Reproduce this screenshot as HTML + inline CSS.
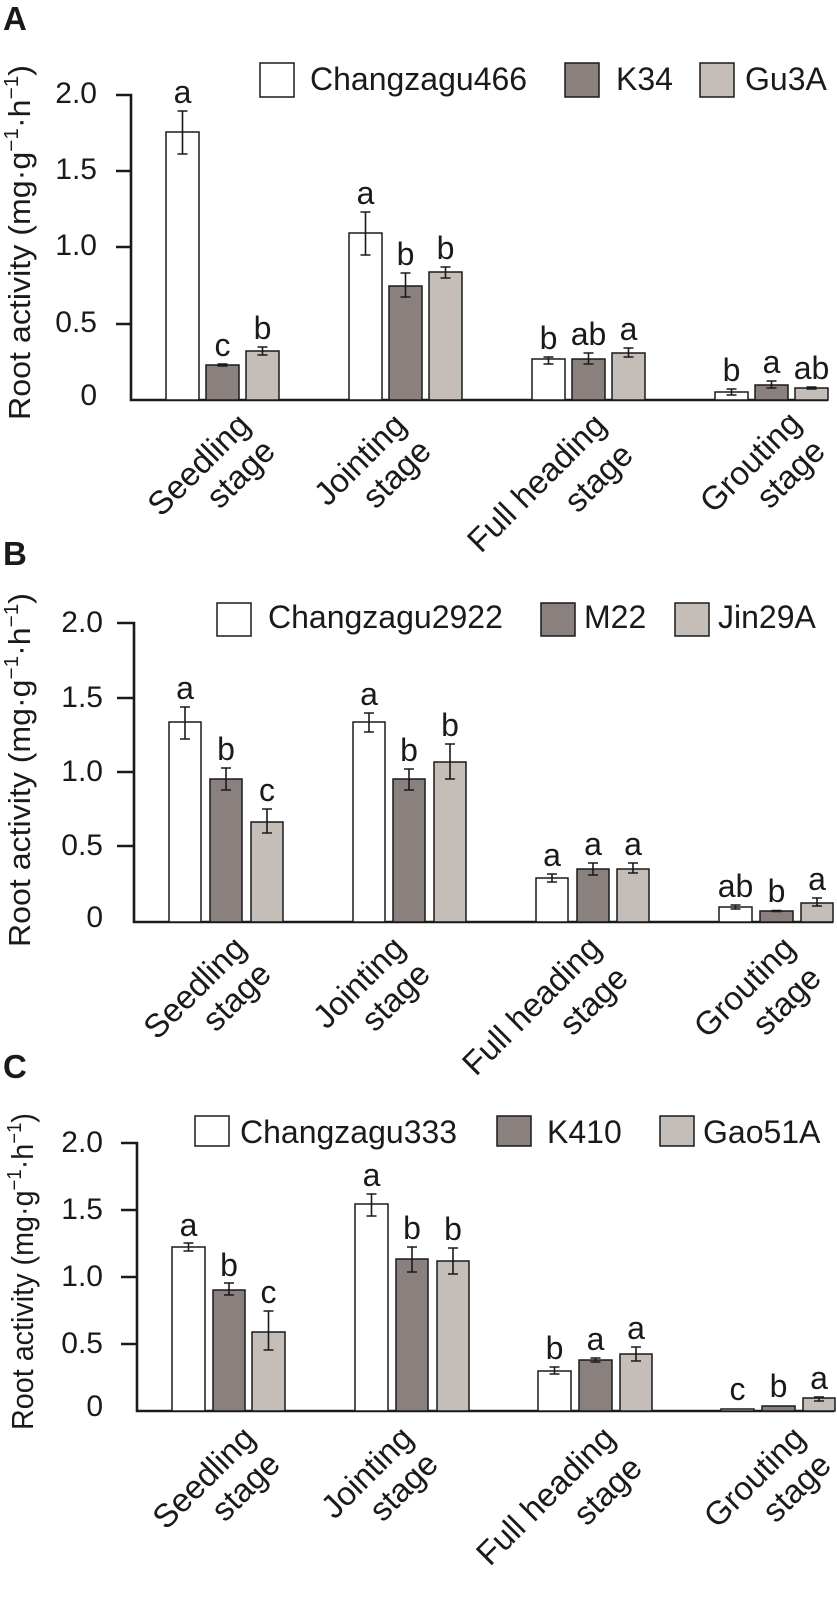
<!DOCTYPE html>
<html><head><meta charset="utf-8"><style>
html,body{margin:0;padding:0;background:#fff}
svg{display:block}
text{font-family:"Liberation Sans",Arial,sans-serif;fill:#1a1a1a}
.b{stroke:#1a1a1a;stroke-width:1.5}
.w{fill:#fff}.d{fill:#8a807d}.l{fill:#c5bdb8}
.e{stroke:#1a1a1a;stroke-width:1.6;fill:none}
.ax{stroke:#1a1a1a;stroke-width:2.6;fill:none}
.tk{font-size:30px;text-anchor:end}
.lt{font-size:32px;text-anchor:middle}
.lg{font-size:32px}
.xl{font-size:33px;text-anchor:end}
.pl{font-size:33px;font-weight:bold}
.yt{font-size:31px}
</style></head><body>
<svg width="837" height="1616" viewBox="0 0 837 1616" xmlns="http://www.w3.org/2000/svg">

<!-- ============ PANEL A ============ -->
<text class="pl" x="3" y="30">A</text>
<text class="yt" transform="translate(30,420) rotate(-90)" textLength="355" lengthAdjust="spacingAndGlyphs">Root activity (mg·g<tspan font-size="20" dy="-12">−1</tspan><tspan dy="12">·h</tspan><tspan font-size="20" dy="-12">−1</tspan><tspan dy="12">)</tspan></text>
<rect class="b w" x="260" y="63" width="34" height="34"/><text class="lg" x="310" y="90">Changzagu466</text>
<rect class="b d" x="565" y="63" width="34" height="34"/><text class="lg" x="616" y="90">K34</text>
<rect class="b l" x="700" y="63" width="34" height="34"/><text class="lg" x="745" y="90">Gu3A</text>
<path class="ax" d="M116 95H131V400H828M116 171H131M116 247H131M116 324H131"/>
<text class="tk" x="97" y="103">2.0</text><text class="tk" x="97" y="179">1.5</text><text class="tk" x="97" y="255">1.0</text><text class="tk" x="97" y="332">0.5</text><text class="tk" x="97" y="405">0</text>
<rect class="b w" x="166" y="132" width="33" height="268"/>
<rect class="b d" x="206" y="365" width="33" height="35"/>
<rect class="b l" x="246" y="351" width="33" height="49"/>
<rect class="b w" x="349" y="233" width="33" height="167"/>
<rect class="b d" x="389" y="286" width="33" height="114"/>
<rect class="b l" x="429" y="272" width="33" height="128"/>
<rect class="b w" x="532" y="359" width="33" height="41"/>
<rect class="b d" x="572" y="359" width="33" height="41"/>
<rect class="b l" x="612" y="353" width="33" height="47"/>
<rect class="b w" x="715" y="392" width="33" height="8"/>
<rect class="b d" x="755" y="385" width="33" height="15"/>
<rect class="b l" x="795" y="388" width="33" height="12"/>
<path class="e" d="M182.5 111V154M177.5 111h10M177.5 154h10
M222.5 364V366M217.5 364h10M217.5 366h10
M262.5 347V355M257.5 347h10M257.5 355h10
M365.5 212V255M360.5 212h10M360.5 255h10
M405.5 273V297M400.5 273h10M400.5 297h10
M445.5 267V278M440.5 267h10M440.5 278h10
M548.5 357V364M543.5 357h10M543.5 364h10
M588.5 353V364M583.5 353h10M583.5 364h10
M628.5 348V357M623.5 348h10M623.5 357h10
M731.5 389V395M726.5 389h10M726.5 395h10
M771.5 381V388M766.5 381h10M766.5 388h10
M811.5 387V389M806.5 387h10M806.5 389h10"/>
<text class="lt" x="182.5" y="103">a</text><text class="lt" x="222.5" y="356">c</text><text class="lt" x="262.5" y="339">b</text>
<text class="lt" x="365.5" y="204">a</text><text class="lt" x="405.5" y="265">b</text><text class="lt" x="445.5" y="259">b</text>
<text class="lt" x="548.5" y="349">b</text><text class="lt" x="588.5" y="345">ab</text><text class="lt" x="628.5" y="340">a</text>
<text class="lt" x="731.5" y="381">b</text><text class="lt" x="771.5" y="373">a</text><text class="lt" x="811.5" y="379">ab</text>
<text class="xl" transform="translate(252,427) rotate(-45)">Seedling</text><text class="xl" transform="translate(277,453) rotate(-45)">stage</text>
<text class="xl" transform="translate(408,427) rotate(-45)">Jointing</text><text class="xl" transform="translate(433,453) rotate(-45)">stage</text>
<text class="xl" transform="translate(608,427) rotate(-45)">Full heading</text><text class="xl" transform="translate(635,457) rotate(-45)">stage</text>
<text class="xl" transform="translate(803,425) rotate(-45)">Grouting</text><text class="xl" transform="translate(827,453) rotate(-45)">stage</text>

<!-- ============ PANEL B ============ -->
<text class="pl" x="3" y="565">B</text>
<text class="yt" transform="translate(30,947) rotate(-90)" textLength="354" lengthAdjust="spacingAndGlyphs">Root activity (mg·g<tspan font-size="20" dy="-12">−1</tspan><tspan dy="12">·h</tspan><tspan font-size="20" dy="-12">−1</tspan><tspan dy="12">)</tspan></text>
<rect class="b w" x="217" y="603" width="34" height="33"/><text class="lg" x="268" y="628">Changzagu2922</text>
<rect class="b d" x="541" y="603" width="34" height="33"/><text class="lg" x="584" y="628">M22</text>
<rect class="b l" x="675" y="603" width="34" height="33"/><text class="lg" x="718" y="628">Jin29A</text>
<path class="ax" d="M117 623H134V922H833M117 698H134M117 772H134M117 846H134"/>
<text class="tk" x="103" y="632">2.0</text><text class="tk" x="103" y="707">1.5</text><text class="tk" x="103" y="781">1.0</text><text class="tk" x="103" y="855">0.5</text><text class="tk" x="103" y="927">0</text>
<rect class="b w" x="169" y="722" width="32" height="200"/>
<rect class="b d" x="210" y="779" width="32" height="143"/>
<rect class="b l" x="251" y="822" width="32" height="100"/>
<rect class="b w" x="353" y="722" width="32" height="200"/>
<rect class="b d" x="393" y="779" width="32" height="143"/>
<rect class="b l" x="434" y="762" width="32" height="160"/>
<rect class="b w" x="536" y="878" width="32" height="44"/>
<rect class="b d" x="577" y="869" width="32" height="53"/>
<rect class="b l" x="617" y="869" width="32" height="53"/>
<rect class="b w" x="719" y="907" width="33" height="15"/>
<rect class="b d" x="760" y="911" width="33" height="11"/>
<rect class="b l" x="801" y="903" width="32" height="19"/>
<path class="e" d="M185 707V739M180 707h10M180 739h10
M226 768V790M221 768h10M221 790h10
M267 809V833M262 809h10M262 833h10
M369 713V732M364 713h10M364 732h10
M409 769V790M404 769h10M404 790h10
M450 744V779M445 744h10M445 779h10
M552 874V882M547 874h10M547 882h10
M593 863V875M588 863h10M588 875h10
M633 863V873M628 863h10M628 873h10
M735.5 905V909M730.5 905h10M730.5 909h10
M776.5 910.5V911.5M771.5 910.5h10M771.5 911.5h10
M817 898V906M812 898h10M812 906h10"/>
<text class="lt" x="185" y="699">a</text><text class="lt" x="226" y="760">b</text><text class="lt" x="267" y="801">c</text>
<text class="lt" x="369" y="705">a</text><text class="lt" x="409" y="761">b</text><text class="lt" x="450" y="736">b</text>
<text class="lt" x="552" y="866">a</text><text class="lt" x="593" y="855">a</text><text class="lt" x="633" y="855">a</text>
<text class="lt" x="735.5" y="897">ab</text><text class="lt" x="776.5" y="902">b</text><text class="lt" x="817" y="890">a</text>
<text class="xl" transform="translate(248,950) rotate(-45)">Seedling</text><text class="xl" transform="translate(273,976) rotate(-45)">stage</text>
<text class="xl" transform="translate(407,950) rotate(-45)">Jointing</text><text class="xl" transform="translate(432,976) rotate(-45)">stage</text>
<text class="xl" transform="translate(603,950) rotate(-45)">Full heading</text><text class="xl" transform="translate(630,980) rotate(-45)">stage</text>
<text class="xl" transform="translate(797,950) rotate(-45)">Grouting</text><text class="xl" transform="translate(823,980) rotate(-45)">stage</text>

<!-- ============ PANEL C ============ -->
<text class="pl" x="3" y="1078">C</text>
<text class="yt" transform="translate(33,1430) rotate(-90)" textLength="317" lengthAdjust="spacingAndGlyphs">Root activity (mg·g<tspan font-size="20" dy="-12">−1</tspan><tspan dy="12">·h</tspan><tspan font-size="20" dy="-12">−1</tspan><tspan dy="12">)</tspan></text>
<rect class="b w" x="195" y="1116" width="34" height="30"/><text class="lg" x="240" y="1143">Changzagu333</text>
<rect class="b d" x="497" y="1116" width="34" height="30"/><text class="lg" x="547" y="1143">K410</text>
<rect class="b l" x="660" y="1116" width="34" height="30"/><text class="lg" x="703" y="1143">Gao51A</text>
<path class="ax" d="M121 1143H137V1411H834M121 1210H137M121 1277H137M121 1344H137"/>
<text class="tk" x="103" y="1152">2.0</text><text class="tk" x="103" y="1219">1.5</text><text class="tk" x="103" y="1286">1.0</text><text class="tk" x="103" y="1353">0.5</text><text class="tk" x="103" y="1416">0</text>
<rect class="b w" x="172" y="1247" width="33" height="164"/>
<rect class="b d" x="213" y="1290" width="32" height="121"/>
<rect class="b l" x="252" y="1332" width="33" height="79"/>
<rect class="b w" x="355" y="1204" width="33" height="207"/>
<rect class="b d" x="396" y="1259" width="32" height="152"/>
<rect class="b l" x="437" y="1261" width="32" height="150"/>
<rect class="b w" x="538" y="1371" width="33" height="40"/>
<rect class="b d" x="579" y="1360" width="33" height="51"/>
<rect class="b l" x="620" y="1354" width="32" height="57"/>
<rect class="b w" x="721" y="1409" width="33" height="2"/>
<rect class="b d" x="762" y="1406" width="33" height="5"/>
<rect class="b l" x="803" y="1398" width="32" height="13"/>
<path class="e" d="M188.5 1243V1251M183.5 1243h10M183.5 1251h10
M229 1283V1295M224 1283h10M224 1295h10
M268.5 1311V1350M263.5 1311h10M263.5 1350h10
M371.5 1194V1216M366.5 1194h10M366.5 1216h10
M412 1247V1272M407 1247h10M407 1272h10
M453 1248V1274M448 1248h10M448 1274h10
M554.5 1367V1374M549.5 1367h10M549.5 1374h10
M595.5 1358V1362M590.5 1358h10M590.5 1362h10
M636 1347V1361M631 1347h10M631 1361h10
M819 1397V1401M814 1397h10M814 1401h10"/>
<text class="lt" x="188.5" y="1236">a</text><text class="lt" x="229" y="1276">b</text><text class="lt" x="268.5" y="1303">c</text>
<text class="lt" x="371.5" y="1186">a</text><text class="lt" x="412" y="1239">b</text><text class="lt" x="453" y="1240">b</text>
<text class="lt" x="554.5" y="1359">b</text><text class="lt" x="595.5" y="1350">a</text><text class="lt" x="636" y="1339">a</text>
<text class="lt" x="737.5" y="1400">c</text><text class="lt" x="778.5" y="1397">b</text><text class="lt" x="819" y="1389">a</text>
<text class="xl" transform="translate(257,1440) rotate(-45)">Seedling</text><text class="xl" transform="translate(282,1466) rotate(-45)">stage</text>
<text class="xl" transform="translate(415,1440) rotate(-45)">Jointing</text><text class="xl" transform="translate(440,1466) rotate(-45)">stage</text>
<text class="xl" transform="translate(617,1440) rotate(-45)">Full heading</text><text class="xl" transform="translate(644,1470) rotate(-45)">stage</text>
<text class="xl" transform="translate(807,1440) rotate(-45)">Grouting</text><text class="xl" transform="translate(833,1467) rotate(-45)">stage</text>
</svg>
</body></html>
